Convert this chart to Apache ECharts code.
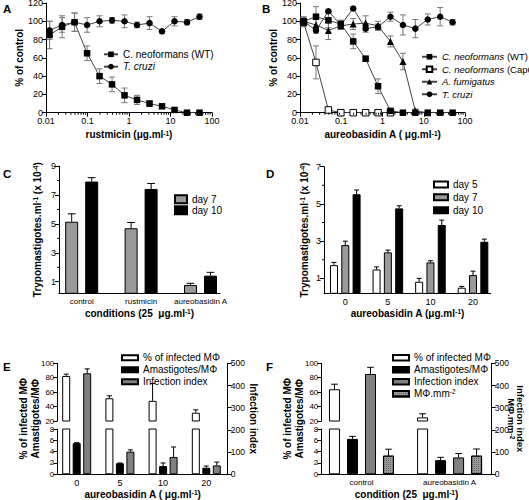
<!DOCTYPE html>
<html><head><meta charset="utf-8">
<script src="https://cdn.jsdelivr.net/npm/echarts@6/dist/echarts.min.js"></script>
<style>html,body{margin:0;padding:0;background:#fff}#c{width:529px;height:500px}</style>
</head><body><div id="c"></div><script>
// ---------------- DATA ----------------
// Panels A/B: concentration (µg/ml), % of control
const concA = [0.0122, 0.0244, 0.0488, 0.0977, 0.195, 0.39, 0.78, 1.56, 3.125, 6.25, 12.5, 25, 50];
const aCneo = [85, 94, 99, 65, 40, 31, 19, 14, 10, 7, 3, 0, 0];
const aCneoErr = [15, 12, 10, 8, 8, 8, 8, 5, 3, 2, 2, 1, 1];
const aTcruzi = [90, 96, 99, 96, 100, 101, 100, 96, 98, 89, 100, 99, 105];
const aTcruziErr = [10, 8, 10, 8, 6, 3, 7, 3, 7, 2, 5, 3, 3];

const concB = [0.0122, 0.0244, 0.0488, 0.0977, 0.195, 0.39, 0.78, 1.56, 3.125, 6.25, 12.5, 25, 50];
const bWT = [100, 105, 101, 97, 78, 59, 29, 2, 0, 0, 0, 0, 0];
const bWTErr = [5, 11, 8, 4, 8, 3, 8, 2, 1, 1, 1, 1, 1];
const bCap = [99, 55, 3, 0, 0, 0, 0, 0];
const bCapErr = [5, 18, 2, 0, 0, 0, 0, 0];
const bAfu = [100, 96, 90, 95, 97, 98, 95, 78, 56, 2, 0];
const bAfuErr = [3, 6, 10, 4, 6, 8, 5, 6, 9, 2, 0];
const bTcr = [100, 90, 111, 96, 114, 92, 94, 105, 96, 92, 102, 105, 99];
const bTcrErr = [3, 3, 2, 5, 2, 4, 3, 5, 11, 10, 6, 10, 3];

const logTicks = [0.01, 0.1, 1, 10, 100];
const logTickLabels = ['0.01', '0.1', '1', '10', '100'];

// Panel C
const cCats = ['control', 'rustmicin', 'aureobasidin A'];
const cDay7 = [5.15, 4.7, 0.77];
const cDay7Err = [0.55, 0.4, 0.12];
const cDay10 = [7.93, 7.42, 1.42];
const cDay10Err = [0.27, 0.38, 0.23];
const cYTicks = [1, 3, 5, 7, 9];
const cYMinor = [2, 4, 6, 8];

// Panel D
const dCats = ['0', '5', '10', '20'];
const dDay5 = [1.71, 1.48, 0.82, 0.5];
const dDay5Err = [0.15, 0.14, 0.18, 0.07];
const dDay7 = [2.79, 2.4, 1.86, 1.18];
const dDay7Err = [0.21, 0.12, 0.09, 0.21];
const dDay10 = [5.52, 4.76, 3.87, 2.97];
const dDay10Err = [0.23, 0.14, 0.26, 0.14];
const dYTicks = [1, 3, 5, 7];
const dYMinor = [2, 4, 6];

// Panel E
const eCats = ['0', '5', '10', '20'];
const eInf = [82.5, 51.5, 48, 31.5];
const eInfErr = [2.5, 3.5, 24, 4];
const eAma = [5.5, 1.95, 1.45, 1.15];
const eAmaErr = [0.1, 0.05, 0.55, 0.3];
const eIdx = [455, 102, 78, 40];
const eIdxErr = [20, 8, 45, 15];

// Panel F
const fCats = ['control', 'aureobasidin A'];
const fInf = [64, 25];
const fInfErr = [7, 5];
const fAma = [6.25, 2.5];
const fAmaErr = [0.45, 0.5];
const fIdx = [452, 76];
const fIdxErr = [30, 18];
const fMphi = [84, 84];
const fMphiErr = [29, 30];

// ---------------- STYLE HELPERS ----------------
const F = 'Liberation Sans, Arial, Helvetica, sans-serif';
const axLine = { show: true, onZero: false, lineStyle: { color: '#000', width: 1 } };
const noSplit = { show: false };
const tick = (len) => ({ show: true, length: len, lineStyle: { color: '#000', width: 1 } });
const lab = (size, extra) => Object.assign({ show: true, fontSize: size, fontFamily: F, color: '#000', margin: 3 }, extra || {});
const supStyle = { fontSize: 6.5, fontWeight: 'bold', fontFamily: F, color: '#000', verticalAlign: 'top' };
const nameStyle = (extra) => Object.assign({ fontSize: 10, fontWeight: 'bold', fontFamily: F, color: '#000', rich: { sup: supStyle } }, extra || {});

function grid(left, top, width, height) {
  return { left, top, width, height, containLabel: false, outerBoundsMode: 'none' };
}

function hiddenX(gi, min, max) {
  return { type: 'value', gridIndex: gi, min, max, show: false };
}
function catX(gi, cats, min, max, size, name, nameGap) {
  return {
    type: 'value', gridIndex: gi, min, max, axisLine: axLine, axisTick: { show: false }, splitLine: noSplit,
    axisLabel: lab(size, { margin: 4, customValues: cats.map((c, i) => i), formatter: v => cats[Math.round(v)] || '' }),
    name, nameLocation: 'middle', nameGap, nameTextStyle: nameStyle()
  };
}
function logX(gi, name) {
  return {
    type: 'log', logBase: 10, gridIndex: gi, min: 0.01, max: 100, axisLine: axLine, axisTick: tick(4), splitLine: noSplit,
    axisLabel: lab(9, { margin: 4, formatter: v => {
      const k = logTicks.findIndex(t => Math.abs(Math.log10(t) - Math.log10(v)) < 1e-6);
      return k >= 0 ? logTickLabels[k] : '';
    } }),
    name, nameLocation: 'middle', nameGap: 17, nameTextStyle: nameStyle()
  };
}

function lineSeries(name, xi, yi, xs, ys, symbol, size, fill) {
  return {
    type: 'line', name, xAxisIndex: xi, yAxisIndex: yi, data: ys.map((v, i) => [xs[i], v]),
    symbol, symbolSize: size, showSymbol: true,
    itemStyle: { color: fill, borderColor: '#000', borderWidth: fill === '#fff' ? 1 : 0 },
    lineStyle: { color: '#444', width: 1 }, z: 3, animation: false
  };
}
function errBars(xi, yi, pts, opt) {
  return {
    type: 'custom', xAxisIndex: xi, yAxisIndex: yi, silent: true, z: opt.z || 1, data: pts, animation: false,
    renderItem: (params, api) => {
      const x = api.value(0), y = api.value(1), e = api.value(2);
      if (!(e > 0)) return;
      const p0 = api.coord([x, y]);
      const p1 = api.coord([x, y + e]);
      const p2 = opt.up ? p0 : api.coord([x, y - e]);
      const cx = p0[0], h = opt.cap / 2;
      const st = { stroke: opt.color, lineWidth: 1 };
      const ch = [
        { type: 'line', shape: { x1: cx, y1: p1[1], x2: cx, y2: p2[1] }, style: st },
        { type: 'line', shape: { x1: cx - h, y1: p1[1], x2: cx + h, y2: p1[1] }, style: st }
      ];
      if (!opt.up) ch.push({ type: 'line', shape: { x1: cx - h, y1: p2[1], x2: cx + h, y2: p2[1] }, style: st });
      return { type: 'group', children: ch };
    }
  };
}
function minorTicks(xi, yi, vals, dim, base, len) {
  return {
    type: 'custom', xAxisIndex: xi, yAxisIndex: yi, silent: true, z: 5, animation: false,
    data: vals.map(v => dim === 'x' ? [v, base] : [base, v]),
    renderItem: (params, api) => {
      const p = api.coord([api.value(0), api.value(1)]);
      const shape = dim === 'x' ? { x1: p[0], y1: p[1], x2: p[0], y2: p[1] + len }
                                : { x1: p[0] - len, y1: p[1], x2: p[0], y2: p[1] };
      return { type: 'line', shape, style: { stroke: '#000', lineWidth: 1 } };
    }
  };
}
function bars(name, xi, yi, vals, errs, dxUnits, width, color, extraStyle) {
  const pts = vals.map((v, i) => [i + dxUnits, v]);
  return [
    {
      type: 'bar', name, xAxisIndex: xi, yAxisIndex: yi, barWidth: width, barGap: '-100%', clip: true,
      data: pts, itemStyle: Object.assign({ color, borderColor: '#000', borderWidth: 1 }, extraStyle || {}), z: 2, animation: false
    },
    errs ? errBars(xi, yi, vals.map((v, i) => [i + dxUnits, v, errs[i]]), { up: true, cap: Math.max(5, width * 0.6), color: '#000', z: 3 }) : null
  ].filter(Boolean);
}

// log minor tick positions (axis decoration)
const logMinor = [];
[0.01, 0.1, 1, 10].forEach(d => { for (let m = 2; m <= 9; m++) logMinor.push(d * m); });

// ---------------- LAYOUT ----------------
const grids = [
  grid(46, 3, 166, 109.7),        // 0 A
  grid(300, 3, 165, 109.7),       // 1 B
  grid(59, 166.1, 161, 127.2),    // 2 C
  grid(324, 166.7, 166.7, 126.6), // 3 D
  grid(57.3, 363.3, 170.4, 57.7), // 4 E top
  grid(57.3, 429, 170.4, 45.3),   // 5 E bottom
  grid(57.3, 363.3, 170.4, 111),  // 6 E right
  grid(321.3, 363.3, 170.4, 57.7),// 7 F top
  grid(321.3, 429, 170.4, 45.3),  // 8 F bottom
  grid(321.3, 363.3, 170.4, 111)  // 9 F right
];
const C_MIN = -0.382, C_MAX = 2.328, C_PPU = 161 / (C_MAX - C_MIN);
const D_MIN = -0.5, D_MAX = 3.415, D_PPU = 166.7 / (D_MAX - D_MIN);
const E_MIN = -0.449, E_MAX = 3.495, E_PPU = 170.4 / (E_MAX - E_MIN);
const FF_MIN = -0.456, FF_MAX = 1.478, F_PPU = 170.4 / (FF_MAX - FF_MIN);

const xAxes = [
  logX(0, 'rustmicin (μg.ml{sup|-1})'),
  logX(1, 'aureobasidin A ( μg.ml{sup|-1})'),
  catX(2, cCats, C_MIN, C_MAX, 8, 'conditions (25  μg.ml{sup|-1})', 15),
  catX(3, dCats, D_MIN, D_MAX, 9, 'aureobasidin A (μg.ml{sup|-1})', 15),
  hiddenX(4, E_MIN, E_MAX),
  catX(5, eCats, E_MIN, E_MAX, 9, 'aureobasidin A ( μg.ml{sup|-1})', 15),
  hiddenX(6, E_MIN, E_MAX),
  hiddenX(7, FF_MIN, FF_MAX),
  catX(8, fCats, FF_MIN, FF_MAX, 8, 'condition (25  μg.ml{sup|-1})', 15),
  hiddenX(9, FF_MIN, FF_MAX)
];

function valY(gi, min, max, interval, size, extra) {
  return Object.assign({
    type: 'value', gridIndex: gi, min, max, interval, axisLine: axLine, axisTick: tick(4),
    axisLabel: lab(size), splitLine: noSplit
  }, extra || {});
}
const yAxes = [
  valY(0, 0, 120, 20, 9, { name: '% of control', nameLocation: 'middle', nameGap: 19, nameTextStyle: nameStyle() }), // 0
  valY(1, 0, 120, 20, 9, { name: '% of control', nameLocation: 'middle', nameGap: 19, nameTextStyle: nameStyle() }), // 1
  { type: 'value', gridIndex: 2, min: 0.2, max: 9, axisLine: axLine, splitLine: noSplit,
    axisTick: Object.assign(tick(4), { customValues: cYTicks }), axisLabel: lab(9, { customValues: cYTicks }),
    name: 'Trypomastigotes.ml{sup|-1} (x 10{sup|-4})', nameLocation: 'middle', nameGap: 17, nameTextStyle: nameStyle() }, // 2
  { type: 'value', gridIndex: 3, min: 0.2, max: 7, axisLine: axLine, splitLine: noSplit,
    axisTick: Object.assign(tick(4), { customValues: dYTicks }), axisLabel: lab(9, { customValues: dYTicks }),
    name: 'Trypomastigotes.ml{sup|-1} (x 10{sup|-4})', nameLocation: 'middle', nameGap: 15, nameTextStyle: nameStyle() }, // 3
  valY(4, 20, 100, 20, 8),     // 4 E top
  valY(5, 0, 8, 2, 8),         // 5 E bottom
  valY(6, 0, 500, 100, 8.5, { position: 'right', name: 'Infection index', nameLocation: 'middle', nameRotate: -90, nameGap: 18, nameTextStyle: nameStyle() }), // 6
  { type: 'value', gridIndex: 6, position: 'left', axisLine: { show: false }, axisTick: { show: false }, axisLabel: { show: false }, splitLine: noSplit,
    name: '% of infected MΦ\nAmastigotes/MΦ', nameLocation: 'middle', nameGap: 16, nameTextStyle: nameStyle({ lineHeight: 12 }) }, // 7
  valY(7, 20, 100, 20, 8),     // 8 F top
  valY(8, 0, 8, 2, 8),         // 9 F bottom
  valY(9, 0, 500, 100, 8.5, { position: 'right', name: 'Infection index\nMΦ.mm{sup|-2}', nameLocation: 'middle', nameRotate: -90,
    nameGap: 16, nameMoveOverlap: false, nameTextStyle: nameStyle({ lineHeight: 8.5, fontSize: 9.5 }) }), // 10
  { type: 'value', gridIndex: 9, position: 'left', axisLine: { show: false }, axisTick: { show: false }, axisLabel: { show: false }, splitLine: noSplit,
    name: '% of infected MΦ\nAmastigotes/MΦ', nameLocation: 'middle', nameGap: 16, nameTextStyle: nameStyle({ lineHeight: 12 }) } // 11
];

// ---------------- SERIES ----------------
const pt = (xs, ys, es) => ys.map((v, i) => [xs[i], v, es[i]]);
const GRAYLINE = '#777';
const series = [
  // A
  errBars(0, 0, pt(concA, aCneo, aCneoErr), { cap: 6, color: GRAYLINE }),
  errBars(0, 0, pt(concA, aTcruzi, aTcruziErr), { cap: 6, color: GRAYLINE }),
  lineSeries('C. neoformans (WT)', 0, 0, concA, aCneo, 'rect', 6.5, '#000'),
  lineSeries('T. cruzi', 0, 0, concA, aTcruzi, 'circle', 6.5, '#000'),
  minorTicks(0, 0, logMinor, 'x', 0, 2),
  // B
  errBars(1, 1, pt(concB, bWT, bWTErr), { cap: 6, color: GRAYLINE }),
  errBars(1, 1, pt(concB, bCap, bCapErr), { cap: 6, color: GRAYLINE }),
  errBars(1, 1, pt(concB, bAfu, bAfuErr), { cap: 6, color: GRAYLINE }),
  errBars(1, 1, pt(concB, bTcr, bTcrErr), { cap: 6, color: GRAYLINE }),
  lineSeries('C. neoformans (Cap67)', 1, 1, concB, bCap, 'rect', 6.5, '#fff'),
  lineSeries('A. fumigatus', 1, 1, concB, bAfu, 'triangle', 7, '#000'),
  lineSeries('T. cruzi', 1, 1, concB, bTcr, 'circle', 6.5, '#000'),
  lineSeries('C. neoformans (WT)', 1, 1, concB, bWT, 'rect', 6.5, '#000'),
  minorTicks(1, 1, logMinor, 'x', 0, 2),
  // C
  ...bars('day 7', 2, 2, cDay7, cDay7Err, -10 / C_PPU, 13, '#9a9a9a'),
  ...bars('day 10', 2, 2, cDay10, cDay10Err, 10 / C_PPU, 13, '#000'),
  minorTicks(2, 2, cYMinor, 'y', C_MIN, 2),
  // D
  ...bars('day 5', 3, 3, dDay5, dDay5Err, -11.3 / D_PPU, 8, '#fff'),
  ...bars('day 7', 3, 3, dDay7, dDay7Err, 0, 8, '#9a9a9a'),
  ...bars('day 10', 3, 3, dDay10, dDay10Err, 11.3 / D_PPU, 8, '#000'),
  minorTicks(3, 3, dYMinor, 'y', D_MIN, 2),
  // E
  ...bars('% of infected MΦ', 4, 4, eInf, eInfErr, -10.5 / E_PPU, 8, '#fff'),
  ...bars('% of infected MΦ', 5, 5, eInf, null, -10.5 / E_PPU, 8, '#fff'),
  ...bars('Amastigotes/MΦ', 5, 5, eAma, eAmaErr, 0, 8, '#000'),
  ...bars('Infection index', 6, 6, eIdx, eIdxErr, 10.5 / E_PPU, 8, '#808080'),
  // F
  ...bars('% of infected MΦ', 7, 8, fInf, fInfErr, -27 / F_PPU, 11, '#fff'),
  ...bars('% of infected MΦ', 8, 9, fInf, null, -27 / F_PPU, 11, '#fff'),
  ...bars('Amastigotes/MΦ', 8, 9, fAma, fAmaErr, -9 / F_PPU, 11, '#000'),
  ...bars('Infection index', 9, 10, fIdx, fIdxErr, 9 / F_PPU, 11, '#808080'),
  ...bars('MΦ.mm-2', 9, 10, fMphi, fMphiErr, 27 / F_PPU, 11, '#9a9a9a',
    { decal: { symbol: 'rect', symbolSize: 1, dashArrayX: [1, 1], dashArrayY: [1, 1], color: 'rgba(60,60,60,0.6)' } })
];

// ---------------- LEGENDS ----------------
const legText = (size, lh) => ({
  fontSize: size, fontFamily: F, color: '#000', lineHeight: lh,
  rich: { i: { fontStyle: 'italic', fontSize: size, fontFamily: F, color: '#000', lineHeight: lh },
          sup: { fontSize: 6.5, fontFamily: F, color: '#000', verticalAlign: 'top' } }
});
const legends = [
  { orient: 'vertical', left: 98, top: 43.1, itemWidth: 14, itemHeight: 7, itemGap: 0, selectedMode: false,
    data: ['C. neoformans (WT)', 'T. cruzi'],
    formatter: n => n === 'T. cruzi' ? '{i|T. cruzi}' : n, textStyle: legText(10, 12.4) },
  { orient: 'vertical', left: 416, top: 45.5, itemWidth: 15, itemHeight: 7, itemGap: 0, selectedMode: false,
    data: ['C. neoformans (WT)', 'C. neoformans (Cap67)', 'A. fumigatus', 'T. cruzi'],
    formatter: n => ({ 'C. neoformans (WT)': '{i|C. neoformans} (WT)', 'C. neoformans (Cap67)': '{i|C. neoformans} (Cap67)',
      'A. fumigatus': '{i|A. fumigatus}', 'T. cruzi': '{i|T. cruzi}' })[n], textStyle: legText(9.5, 12.5) },
  { orient: 'vertical', left: 169, top: 188.7, itemWidth: 12, itemHeight: 8, itemGap: 0, selectedMode: false, icon: 'rect',
    data: ['day 7', 'day 10'], textStyle: legText(10, 11) },
  { orient: 'vertical', left: 428, top: 173, itemWidth: 14, itemHeight: 6, itemGap: 0, selectedMode: false, icon: 'rect',
    data: ['day 5', 'day 7', 'day 10'], textStyle: legText(10, 12.9) },
  { orient: 'vertical', left: 116, top: 346.8, itemWidth: 16, itemHeight: 5, itemGap: 0, selectedMode: false, icon: 'rect',
    data: ['% of infected MΦ', 'Amastigotes/MΦ', 'Infection index'], textStyle: legText(10, 12) },
  { orient: 'vertical', left: 387, top: 346.7, itemWidth: 16, itemHeight: 5.5, itemGap: 0, selectedMode: false, icon: 'rect',
    data: ['% of infected MΦ', 'Amastigotes/MΦ', 'Infection index', 'MΦ.mm-2'],
    formatter: n => n === 'MΦ.mm-2' ? 'MΦ.mm{sup|-2}' : n, textStyle: legText(10, 12) }
];

// ---------------- PANEL LETTERS ----------------
const letter = (t, left, top) => ({ type: 'text', left, top, style: { text: t, fontSize: 11.5, fontWeight: 'bold', fontFamily: F, fill: '#000' } });
const graphic = [letter('A', 3, 3), letter('B', 262, 3), letter('C', 3, 168), letter('D', 266, 168), letter('E', 3, 361), letter('F', 266, 361)];

const chart = echarts.init(document.getElementById('c'), null, { renderer: 'svg', width: 529, height: 500 });
chart.setOption({
  animation: false, backgroundColor: '#fff',
  grid: grids, xAxis: xAxes, yAxis: yAxes, series, legend: legends, graphic
});
</script></body></html>
